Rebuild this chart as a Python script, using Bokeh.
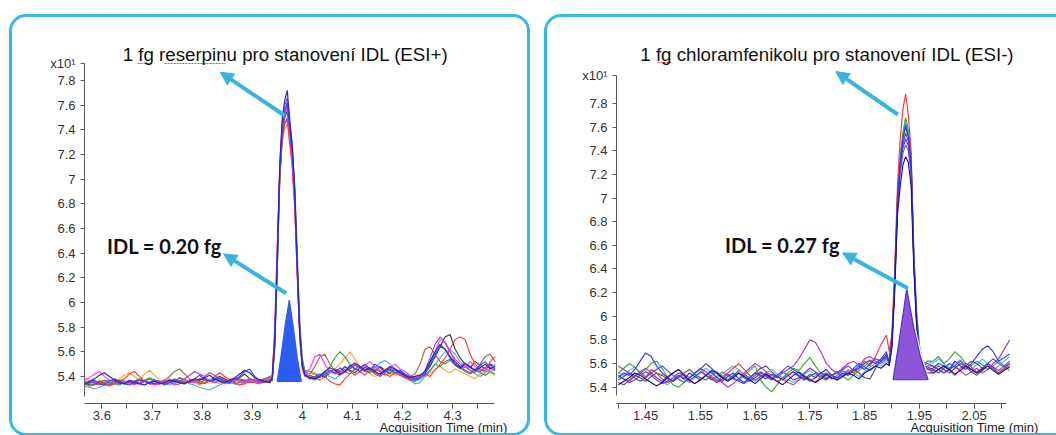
import numpy as np
from bokeh.plotting import figure
from bokeh.layouts import row
from bokeh.models import (Range1d, FixedTicker, CustomJSTickFormatter, InlineStyleSheet,
                          Label, Arrow, NormalHead, Title)
from bokeh.embed import file_html
from bokeh.resources import INLINE

# ---------------- data: left panel (reserpin, ESI+) ----------------
left_time = np.round(np.concatenate([np.arange(3.565, 3.9351, 0.01),
                                     np.arange(3.94, 4.0051, 0.005),
                                     np.arange(4.015, 4.3851, 0.01)]), 3)

left_black = [5.35,5.33,5.34,5.36,5.34,5.33,5.35,5.37,5.36,5.34,
              5.36,5.38,5.36,5.35,5.34,5.36,5.37,5.35,5.36,5.39,
              5.37,5.35,5.36,5.38,5.37,5.36,5.38,5.40,5.38,5.36,
              5.37,5.39,5.42,5.38,5.36,5.37,5.38,5.36,
              5.37,5.66,6.30,7.00,7.35,7.50,7.55,7.35,7.15,6.80,6.25,5.75,5.50,5.42,
              5.40,5.38,5.41,5.39,5.43,5.46,5.44,5.48,5.45,5.43,
              5.47,5.50,5.46,5.44,5.48,5.45,5.42,5.46,5.44,5.41,
              5.39,5.38,5.40,5.43,5.48,5.56,5.64,5.72,5.74,5.62,
              5.55,5.50,5.47,5.52,5.49,5.46,5.50,5.48]
left_blue = [5.33,5.35,5.37,5.34,5.33,5.36,5.38,5.36,5.34,5.33,
             5.35,5.37,5.36,5.34,5.36,5.35,5.33,5.35,5.37,5.35,
             5.34,5.36,5.38,5.41,5.38,5.36,5.37,5.39,5.36,5.35,
             5.38,5.40,5.44,5.46,5.40,5.37,5.36,5.35,
             5.38,5.68,6.32,7.05,7.40,7.55,7.62,7.40,7.20,6.85,6.28,5.74,5.48,5.41,
             5.38,5.40,5.42,5.40,5.45,5.43,5.47,5.44,5.49,5.46,
             5.44,5.48,5.45,5.50,5.47,5.44,5.46,5.43,5.45,5.42,
             5.40,5.38,5.39,5.42,5.50,5.58,5.64,5.62,5.55,5.52,
             5.48,5.51,5.47,5.45,5.49,5.52,5.47,5.45]
left_red = [5.34,5.32,5.33,5.35,5.34,5.33,5.34,5.36,5.38,5.42,
            5.44,5.40,5.36,5.35,5.33,5.34,5.36,5.35,5.33,5.34,
            5.36,5.35,5.37,5.36,5.34,5.36,5.40,5.43,5.40,5.37,
            5.35,5.33,5.34,5.36,5.35,5.34,5.36,5.37,
            5.40,5.80,6.45,7.05,7.35,7.45,7.48,7.30,7.10,6.75,6.20,5.70,5.46,5.40,
            5.41,5.39,5.37,5.40,5.36,5.34,5.33,5.38,5.42,5.46,
            5.44,5.41,5.45,5.48,5.44,5.42,5.40,5.43,5.41,5.39,
            5.37,5.38,5.40,5.42,5.40,5.45,5.50,5.55,5.62,5.70,
            5.72,5.70,5.58,5.50,5.46,5.44,5.52,5.56]
left_green = [5.36,5.34,5.33,5.35,5.37,5.35,5.34,5.33,5.35,5.36,
              5.34,5.35,5.37,5.39,5.37,5.35,5.34,5.36,5.38,5.36,
              5.35,5.37,5.36,5.34,5.35,5.37,5.39,5.37,5.35,5.36,
              5.34,5.35,5.37,5.36,5.35,5.36,5.38,5.40,
              5.37,5.62,6.25,7.00,7.40,7.55,7.62,7.45,7.28,6.95,6.40,5.85,5.55,5.45,
              5.44,5.42,5.40,5.43,5.48,5.55,5.60,5.56,5.50,5.46,
              5.48,5.45,5.43,5.46,5.44,5.41,5.43,5.46,5.44,5.40,
              5.37,5.36,5.38,5.41,5.45,5.50,5.48,5.52,5.54,5.50,
              5.47,5.44,5.42,5.45,5.43,5.41,5.44,5.42]
left_magenta = [5.37,5.39,5.42,5.44,5.40,5.37,5.35,5.34,5.36,5.35,
                5.33,5.35,5.36,5.34,5.33,5.35,5.37,5.36,5.34,5.36,
                5.38,5.36,5.35,5.37,5.39,5.37,5.35,5.36,5.34,5.35,
                5.37,5.36,5.35,5.37,5.36,5.35,5.37,5.38,
                5.39,5.78,6.45,7.10,7.42,7.52,7.58,7.38,7.15,6.80,6.22,5.70,5.47,5.43,
                5.46,5.56,5.58,5.50,5.44,5.42,5.45,5.43,5.47,5.50,
                5.46,5.49,5.52,5.48,5.45,5.43,5.47,5.50,5.46,5.44,
                5.41,5.39,5.40,5.43,5.52,5.60,5.70,5.67,5.60,5.54,
                5.50,5.47,5.52,5.48,5.45,5.47,5.44,5.46]
left_orange = [5.38,5.36,5.35,5.37,5.36,5.34,5.36,5.38,5.41,5.43,
               5.40,5.37,5.42,5.45,5.41,5.37,5.36,5.38,5.36,5.35,
               5.37,5.36,5.35,5.33,5.35,5.37,5.36,5.34,5.36,5.38,
               5.36,5.35,5.34,5.36,5.38,5.36,5.38,5.40,
               5.41,5.72,6.38,7.02,7.30,7.40,7.45,7.28,7.10,6.78,6.25,5.76,5.52,5.44,
               5.40,5.43,5.41,5.44,5.42,5.46,5.50,5.55,5.60,5.54,
               5.48,5.45,5.42,5.40,5.43,5.46,5.44,5.41,5.43,5.40,
               5.38,5.40,5.42,5.40,5.42,5.46,5.48,5.45,5.43,5.46,
               5.44,5.42,5.40,5.38,5.42,5.45,5.43,5.41]
left_lightblue = [5.32,5.31,5.30,5.31,5.33,5.32,5.34,5.36,5.35,5.34,
                  5.36,5.35,5.33,5.35,5.37,5.36,5.34,5.33,5.35,5.37,
                  5.36,5.34,5.33,5.31,5.30,5.29,5.31,5.33,5.35,5.36,
                  5.34,5.33,5.35,5.37,5.36,5.35,5.36,5.37,
                  5.36,5.64,6.28,7.02,7.38,7.52,7.60,7.40,7.22,6.88,6.32,5.78,5.50,5.42,
                  5.39,5.37,5.40,5.42,5.40,5.38,5.41,5.44,5.42,5.46,
                  5.48,5.45,5.43,5.47,5.51,5.53,5.50,5.46,5.43,5.40,
                  5.37,5.34,5.35,5.40,5.44,5.50,5.55,5.60,5.62,5.58,
                  5.52,5.48,5.45,5.42,5.40,5.43,5.46,5.50]
left_purple = [5.34,5.36,5.35,5.33,5.35,5.37,5.36,5.34,5.35,5.37,
               5.36,5.34,5.36,5.35,5.37,5.36,5.34,5.35,5.37,5.36,
               5.38,5.41,5.44,5.42,5.40,5.43,5.41,5.38,5.37,5.36,
               5.38,5.37,5.36,5.38,5.37,5.36,5.35,5.37,
               5.38,5.70,6.35,7.10,7.46,7.60,7.66,7.45,7.25,6.90,6.30,5.76,5.50,5.43,
               5.38,5.40,5.39,5.42,5.45,5.43,5.41,5.44,5.46,5.49,
               5.47,5.44,5.46,5.43,5.41,5.44,5.47,5.45,5.42,5.40,
               5.38,5.37,5.39,5.45,5.55,5.66,5.72,5.68,5.60,5.52,
               5.48,5.45,5.43,5.46,5.44,5.47,5.49,5.46]
left_brown = [5.35,5.34,5.36,5.35,5.33,5.34,5.36,5.35,5.34,5.36,
              5.35,5.34,5.36,5.38,5.36,5.35,5.37,5.40,5.44,5.46,
              5.42,5.38,5.36,5.35,5.37,5.36,5.35,5.37,5.36,5.34,
              5.36,5.38,5.37,5.35,5.37,5.36,5.37,5.39,
              5.37,5.65,6.30,7.00,7.32,7.45,7.50,7.32,7.12,6.80,6.26,5.74,5.50,5.44,
              5.42,5.48,5.56,5.58,5.50,5.45,5.43,5.46,5.44,5.41,
              5.44,5.47,5.45,5.42,5.40,5.43,5.45,5.43,5.41,5.39,
              5.40,5.42,5.50,5.62,5.64,5.58,5.52,5.50,5.53,5.49,
              5.46,5.48,5.45,5.43,5.50,5.56,5.58,5.52]
left_navy = [5.34,5.36,5.38,5.41,5.43,5.40,5.37,5.35,5.34,5.36,
             5.35,5.34,5.33,5.35,5.36,5.34,5.35,5.37,5.36,5.35,
             5.34,5.36,5.38,5.37,5.39,5.41,5.38,5.36,5.35,5.37,
             5.39,5.42,5.45,5.43,5.39,5.37,5.36,5.35,
             5.39,5.70,6.36,7.12,7.50,7.64,7.72,7.48,7.26,6.90,6.30,5.74,5.49,5.41,
             5.39,5.38,5.40,5.44,5.47,5.45,5.42,5.44,5.48,5.51,
             5.48,5.45,5.47,5.44,5.42,5.45,5.48,5.46,5.43,5.41,
             5.39,5.40,5.41,5.44,5.52,5.60,5.66,5.62,5.56,5.50,
             5.47,5.50,5.48,5.45,5.47,5.50,5.46,5.48]

left_traces = [left_black, left_orange, left_lightblue, left_brown, left_green,
               left_red, left_magenta, left_purple, left_blue, left_navy]
left_colors = ["#3a3a3a", "#ffa436", "#4da6ff", "#b0604a", "#2ea043",
               "#ff3b3b", "#ff3cf0", "#9b3fd1", "#2b4cff", "#2a2aa8"]

# integrated peak (IDL level), left
left_fill_time = [3.950, 3.958, 3.966, 3.974, 3.982, 3.990, 3.998]
left_fill_resp = [5.36, 5.58, 5.82, 6.02, 5.80, 5.55, 5.36]

# ---------------- data: right panel (chloramfenikol, ESI-) ----------------
right_time = np.round(np.concatenate([np.arange(1.40, 1.8951, 0.01),
                                      np.arange(1.895, 1.9651, 0.005),
                                      np.arange(1.975, 2.1151, 0.01)]), 3)

right_blue = [5.48,5.52,5.50,5.55,5.62,5.69,5.66,5.58,5.52,5.48,
              5.45,5.50,5.47,5.52,5.49,5.46,5.50,5.53,5.48,5.45,
              5.49,5.52,5.47,5.44,5.48,5.52,5.50,5.47,5.51,5.49,
              5.46,5.50,5.53,5.49,5.46,5.51,5.48,5.52,5.55,5.50,
              5.48,5.52,5.50,5.54,5.58,5.55,5.60,5.64,5.62,5.68,
              5.60,5.78,6.28,6.95,7.30,7.50,7.62,7.52,7.30,6.45,5.98,5.70,5.60,5.56,5.55,
              5.56,5.60,5.58,5.55,5.62,5.58,5.55,5.60,5.66,5.72,5.75,5.70,5.62,5.65,5.68]
right_green = [5.52,5.56,5.60,5.57,5.52,5.55,5.60,5.62,5.56,5.48,
               5.42,5.40,5.44,5.48,5.52,5.56,5.50,5.46,5.49,5.53,
               5.50,5.47,5.45,5.50,5.54,5.58,5.46,5.40,5.36,5.42,
               5.48,5.52,5.56,5.54,5.60,5.65,5.58,5.52,5.48,5.50,
               5.53,5.49,5.46,5.50,5.54,5.58,5.62,5.60,5.64,5.66,
               5.62,5.82,6.32,7.00,7.35,7.56,7.68,7.58,7.35,6.55,6.05,5.76,5.64,5.60,5.62,
               5.62,5.66,5.60,5.64,5.70,5.66,5.60,5.58,5.62,5.59,5.55,5.58,5.62,5.58,5.54]
right_red = [5.50,5.47,5.45,5.49,5.52,5.48,5.55,5.52,5.47,5.44,
             5.46,5.50,5.48,5.45,5.43,5.47,5.50,5.48,5.45,5.49,
             5.52,5.56,5.60,5.55,5.50,5.46,5.49,5.52,5.48,5.45,
             5.47,5.44,5.42,5.46,5.50,5.47,5.44,5.49,5.52,5.50,
             5.46,5.50,5.54,5.52,5.56,5.62,5.58,5.66,5.76,5.84,
             5.70,5.86,6.40,7.10,7.50,7.75,7.88,7.70,7.40,6.50,5.98,5.70,5.58,5.55,5.56,
             5.52,5.55,5.58,5.54,5.50,5.56,5.60,5.57,5.53,5.56,5.60,5.56,5.52,5.55,5.58]
right_purple = [5.58,5.55,5.52,5.50,5.53,5.56,5.52,5.48,5.45,5.49,
                5.52,5.55,5.51,5.48,5.52,5.56,5.53,5.49,5.46,5.44,
                5.40,5.43,5.47,5.52,5.56,5.60,5.57,5.53,5.50,5.48,
                5.52,5.55,5.58,5.64,5.72,5.80,5.78,5.70,5.60,5.55,
                5.52,5.56,5.60,5.62,5.58,5.64,5.66,5.62,5.60,5.64,
                5.64,5.80,6.25,6.90,7.20,7.38,7.45,7.40,7.20,6.45,5.95,5.68,5.60,5.57,5.58,
                5.58,5.55,5.52,5.56,5.58,5.54,5.50,5.53,5.56,5.52,5.55,5.60,5.64,5.72,5.80]
right_gray = [5.44,5.42,5.46,5.50,5.48,5.45,5.49,5.52,5.50,5.47,
              5.45,5.48,5.52,5.55,5.51,5.48,5.46,5.50,5.53,5.49,
              5.46,5.50,5.54,5.51,5.48,5.52,5.56,5.58,5.53,5.49,
              5.47,5.50,5.53,5.50,5.47,5.49,5.52,5.48,5.46,5.50,
              5.53,5.49,5.52,5.55,5.52,5.48,5.47,5.56,5.62,5.66,
              5.58,5.76,6.28,6.98,7.30,7.50,7.60,7.52,7.32,6.48,5.98,5.72,5.62,5.58,5.55,
              5.54,5.58,5.55,5.52,5.56,5.60,5.57,5.53,5.50,5.54,5.58,5.55,5.52,5.56,5.60]
right_lightblue = [5.52,5.50,5.54,5.57,5.53,5.49,5.52,5.48,5.45,5.42,
                   5.46,5.50,5.47,5.44,5.48,5.52,5.56,5.52,5.48,5.51,
                   5.55,5.58,5.55,5.50,5.47,5.45,5.48,5.52,5.55,5.51,
                   5.48,5.46,5.44,5.47,5.51,5.54,5.50,5.48,5.52,5.50,
                   5.47,5.51,5.55,5.52,5.49,5.53,5.57,5.60,5.58,5.62,
                   5.60,5.78,6.30,7.00,7.32,7.52,7.65,7.55,7.35,6.52,6.02,5.75,5.63,5.60,5.62,
                   5.60,5.64,5.60,5.56,5.60,5.63,5.58,5.55,5.59,5.64,5.60,5.55,5.58,5.62,5.66]
right_blue2 = [5.46,5.49,5.52,5.48,5.45,5.48,5.52,5.55,5.58,5.54,
               5.50,5.47,5.44,5.48,5.52,5.55,5.60,5.56,5.52,5.48,
               5.46,5.49,5.52,5.48,5.45,5.48,5.52,5.49,5.46,5.50,
               5.54,5.58,5.55,5.52,5.48,5.45,5.48,5.52,5.50,5.47,
               5.50,5.54,5.51,5.56,5.60,5.57,5.54,5.58,5.62,5.65,
               5.62,5.80,6.30,6.95,7.28,7.45,7.55,7.48,7.28,6.48,5.98,5.70,5.60,5.58,5.57,
               5.55,5.52,5.56,5.60,5.57,5.54,5.58,5.62,5.60,5.56,5.60,5.64,5.60,5.57,5.60]
right_violet = [5.50,5.47,5.44,5.46,5.50,5.53,5.50,5.46,5.43,5.45,
                5.48,5.52,5.50,5.46,5.49,5.53,5.50,5.47,5.44,5.47,
                5.51,5.48,5.45,5.43,5.46,5.50,5.53,5.50,5.47,5.50,
                5.53,5.50,5.46,5.48,5.52,5.56,5.53,5.50,5.47,5.50,
                5.52,5.55,5.58,5.54,5.56,5.60,5.63,5.60,5.64,5.70,
                5.60,5.78,6.26,6.92,7.25,7.42,7.50,7.44,7.25,6.46,5.96,5.70,5.62,5.59,5.60,
                5.58,5.55,5.52,5.55,5.58,5.62,5.58,5.55,5.52,5.56,5.60,5.57,5.54,5.58,5.62]
right_navy = [5.42,5.45,5.48,5.52,5.50,5.47,5.44,5.41,5.44,5.48,
              5.52,5.55,5.50,5.46,5.43,5.46,5.50,5.54,5.52,5.48,
              5.45,5.48,5.52,5.49,5.46,5.43,5.47,5.51,5.48,5.45,
              5.42,5.46,5.50,5.53,5.49,5.46,5.44,5.47,5.51,5.48,
              5.46,5.49,5.52,5.50,5.47,5.52,5.55,5.58,5.56,5.60,
              5.58,5.74,6.20,6.85,7.10,7.28,7.35,7.30,7.10,6.40,5.92,5.66,5.57,5.54,5.52,
              5.52,5.55,5.58,5.55,5.51,5.54,5.58,5.55,5.52,5.55,5.58,5.54,5.51,5.54,5.57]

right_traces = [right_gray, right_lightblue, right_green, right_red, right_purple,
                right_violet, right_blue2, right_blue, right_navy]
right_colors = ["#555555", "#5ab0ff", "#3aaa3a", "#f03a3a", "#a040b8",
                "#6a3ad0", "#3a52e0", "#2a3cf0", "#20128f"]

right_fill_time = [1.902, 1.914, 1.927, 1.940, 1.952, 1.966]
right_fill_resp = [5.463, 5.82, 6.232, 5.90, 5.66, 5.463]

# axis ticks
left_x_ticks = [3.6, 3.7, 3.8, 3.9, 4.0, 4.1, 4.2, 4.3]
left_x_minor = [3.6, 3.65, 3.7, 3.75, 3.8, 3.85, 3.9, 3.95, 4.0, 4.05, 4.1, 4.15,
                4.2, 4.25, 4.3, 4.35]
right_x_ticks = [1.45, 1.55, 1.65, 1.75, 1.85, 1.95, 2.05]
right_x_minor = [1.40, 1.45, 1.50, 1.55, 1.60, 1.65, 1.70, 1.75, 1.80, 1.85, 1.90,
                 1.95, 2.00, 2.05, 2.10]
y_ticks = [5.4, 5.6, 5.8, 6.0, 6.2, 6.4, 6.6, 6.8, 7.0, 7.2, 7.4, 7.6, 7.8]
y_scale_label = "x10\u00b9"
x_axis_title = "Acquisition Time (min)"

# ---------------- layout helpers (window px -> data) ----------------
def lx(px): return 3.6 + (px - 101.4) / 501.0
def ly(py): return 7.8 - (py - 80.0) / 123.3
def rx(px): return 1.40 + (px - 617.8) / 547.3
def ry(py): return 7.8 - (py - 103.0) / 118.2

BORDER = "#3cb6e3"
ARROW = "#3ab4dc"
FONT = "Liberation Sans"


def border_css(left, top, width, height):
    return (":host { position: relative; } "
            ":host::after { content: ''; position: absolute; "
            f"left: {left}px; top: {top}px; width: {width}px; height: {height}px; "
            f"box-sizing: border-box; border: 3px solid {BORDER}; border-radius: 17px; "
            "pointer-events: none; }")


def make_panel(width, frame_l, frame_r, frame_t, frame_b, fx, fy, x_off,
               xaxis_end_px, yaxis_bottom_px, x10_py,
               xt, xm, traces, colors, time, fill_t, fill_r, fill_color, fill_line,
               css_box, title, title_px, idl_text, idl_px, arrows, squiggles):
    p = figure(width=width, height=435, output_backend="svg", toolbar_location=None,
               x_range=Range1d(fx(frame_l + x_off), fx(frame_r + x_off)),
               y_range=Range1d(fy(frame_b), fy(frame_t)),
               min_border_left=frame_l, min_border_right=width - frame_r,
               min_border_top=frame_t, min_border_bottom=435 - frame_b)
    p.xgrid.visible = False
    p.ygrid.visible = False
    p.outline_line_color = None
    p.background_fill_color = "white"
    p.border_fill_color = "white"
    p.stylesheets = [InlineStyleSheet(css=border_css(*css_box))]

    x10_value = fy(x10_py)
    fmt = CustomJSTickFormatter(
        args=dict(cut=x10_value - 0.001, lab=y_scale_label),
        code="if (tick > cut) { return lab; } return String(Math.round(tick*100)/100);")

    for axis in (p.xaxis[0], p.yaxis[0]):
        axis.axis_line_color = "#5a5a5a"
        axis.major_tick_line_color = "#5a5a5a"
        axis.minor_tick_line_color = "#5a5a5a"
        axis.major_label_text_font = FONT
        axis.major_label_text_font_size = "13px"
        axis.major_label_text_color = "#333333"
        axis.formatter = fmt
    xa = p.xaxis[0]
    xa.ticker = FixedTicker(ticks=xt, minor_ticks=xm)
    xa.major_tick_in = 0
    xa.major_tick_out = 5
    xa.minor_tick_in = 0
    xa.minor_tick_out = 5
    xa.major_label_standoff = 2
    xa.bounds = (fx(frame_l + x_off), fx(xaxis_end_px))

    p.add_layout(Title(text=x_axis_title, align="right", vertical_align="middle",
                       text_font=FONT, text_font_size="13px", text_font_style="normal",
                       text_color="#222222", standoff=-8, offset=0), "below")

    ya = p.yaxis[0]
    ya.ticker = FixedTicker(ticks=y_ticks + [x10_value])
    ya.major_tick_in = 0
    ya.major_tick_out = 4
    ya.minor_tick_line_color = None
    ya.major_label_standoff = 5
    ya.bounds = (fy(yaxis_bottom_px), x10_value)

    for tr, c in zip(traces, colors):
        p.line(time, tr, line_color=c, line_width=1.15)

    p.patch(fill_t, fill_r, fill_color=fill_color, line_color="white", line_width=3.5)
    p.patch(fill_t, fill_r, fill_color=fill_color, line_color=fill_line, line_width=1.2)

    # spell-check underlines under the title words
    for (sx0, sx1, sy) in squiggles:
        p.segment(fx(sx0), fy(sy), fx(sx1), fy(sy), line_color="#e0504a",
                  line_width=1.2, line_dash="2 1")

    p.add_layout(Label(x=fx(title_px[0]), y=fy(title_px[1]), text=title,
                       text_font=FONT, text_font_size="18.7px", text_color="#111111",
                       text_align="center", text_baseline="middle"))
    p.add_layout(Label(x=fx(idl_px[0]), y=fy(idl_px[1]), text=idl_text,
                       text_font="Lato", text_font_style="bold", text_font_size="20px",
                       text_color="#111111", text_align="left", text_baseline="middle"))
    for (x0, y0, x1, y1) in arrows:
        p.add_layout(Arrow(end=NormalHead(size=13, fill_color=ARROW, line_color=ARROW),
                           x_start=fx(x0), y_start=fy(y0), x_end=fx(x1), y_end=fy(y1),
                           line_color=ARROW, line_width=4))
    return p


p1 = make_panel(530, 84, 507, 30, 403, lx, ly, 0, 493.6, 395.6, 63,
                left_x_ticks, left_x_minor, left_traces, left_colors, left_time,
                left_fill_time, left_fill_resp, "#2f5cf0", "#2f5cf0",
                (9, 14, 521, 422),
                "1 fg reserpinu pro stanovení IDL (ESI+)", (285, 54),
                "IDL = 0.20 fg", (106.5, 245),
                [(284, 115, 219.7, 71.7), (285.7, 292.8, 223, 253.4)],
                [(137, 152, 63), (164, 225, 63)])

p2 = make_panel(526, 86, 508, 30, 403, rx, ry, 530, 1006.3, 394.7, 75,
                right_x_ticks, right_x_minor, right_traces, right_colors, right_time,
                right_fill_time, right_fill_resp, "#8e55d8", "#4a35c8",
                (14, 14, 530, 422),
                "1 fg chloramfenikolu  pro stanovení IDL (ESI-)", (829.4, 54),
                "IDL = 0.27 fg", (724.6, 244),
                [(897.3, 114, 835.3, 71.1), (907.4, 287.7, 842, 252.4)],
                [(657, 672, 62)])

layout = row(p1, p2)
open("out.html", "w").write(file_html(layout, INLINE))
